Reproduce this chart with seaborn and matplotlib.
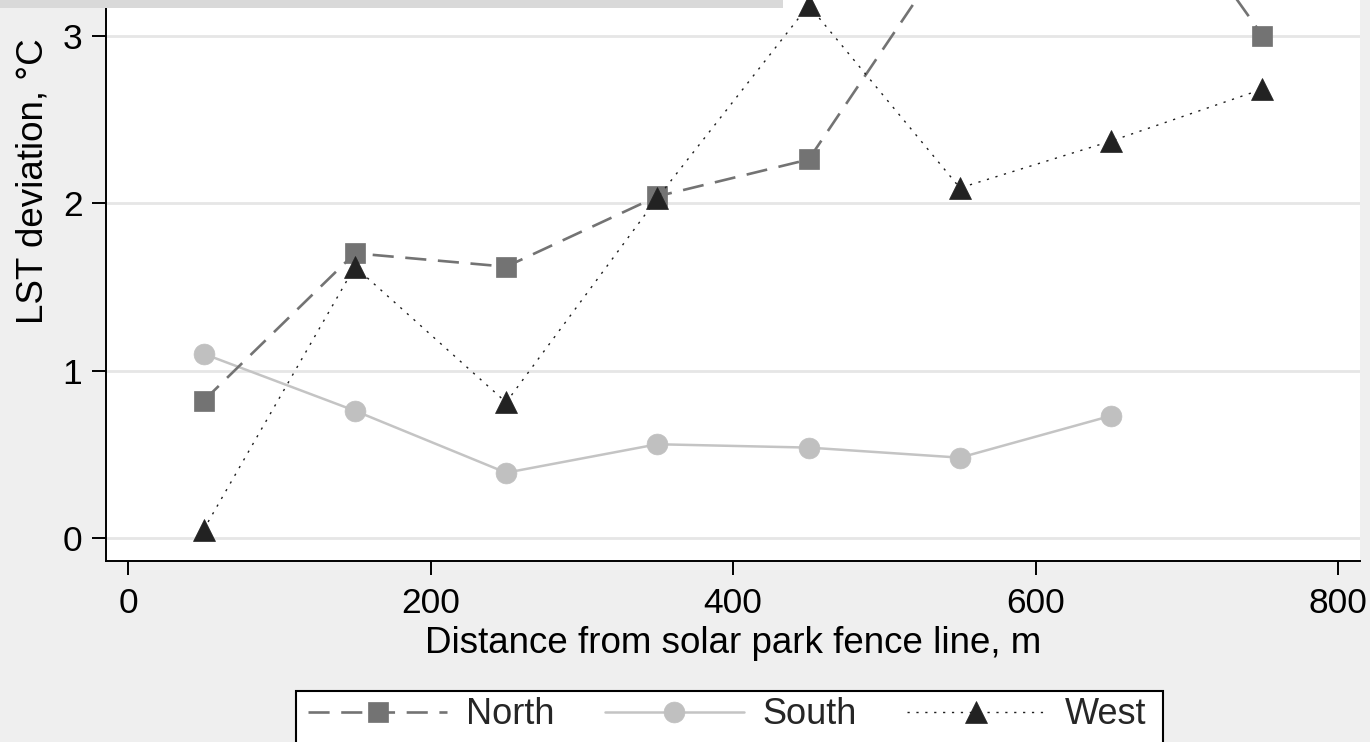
import matplotlib
matplotlib.use("Agg")
import matplotlib.pyplot as plt
from matplotlib.patches import Rectangle
import seaborn as sns

# LST deviation by distance from the fence line
distance = [50, 150, 250, 350, 450, 550, 650, 750]
north = [0.82, 1.70, 1.62, 2.04, 2.26, 3.60, 4.27, 3.00]
south_distance = [50, 150, 250, 350, 450, 550, 650]
south = [1.10, 0.76, 0.39, 0.56, 0.54, 0.48, 0.73]
west = [0.05, 1.62, 0.81, 2.03, 3.18, 2.09, 2.37, 2.68]
x_ticks = [0, 200, 400, 600, 800]
y_ticks = [0, 1, 2, 3]

sns.set_theme(style="white")
plt.rcParams["font.family"] = ["Liberation Sans", "DejaVu Sans"]

W, H = 1370, 742
fig = plt.figure(figsize=(W / 100, H / 100), dpi=100, facecolor="#efefef")

# plot region in pixels (top runs past the picture edge)
left, right, bottom, top = 106, 1360, 561, -199
ax = fig.add_axes([left / W, 1 - bottom / H, (right - left) / W, (bottom - top) / H])
ax.set_facecolor("white")

sns.lineplot(x=south_distance, y=south, ax=ax, color="#c4c4c4", lw=1.8,
             marker="o", markersize=15, mec="#c0c0c0", mfc="#c0c0c0", mew=0.5,
             label="South")
sns.lineplot(x=distance, y=north, ax=ax, color="#737373", lw=1.9,
             linestyle=(0, (8, 4.4)), dash_capstyle="butt",
             marker="s", markersize=14, mec="#737373", mfc="#737373", mew=0.5,
             label="North")
sns.lineplot(x=distance, y=west, ax=ax, color="#1e1e1e", lw=1.0,
             linestyle=(0, (1.6, 4.8)),
             marker="^", markersize=16, mec="#222222", mfc="#222222", mew=0.5,
             label="West")

ax.set_xlim(-14.55, 814.5)
ax.set_ylim(-0.137, 4.40)
ax.set_xticks(x_ticks)
ax.set_yticks(y_ticks)
ax.set_xticklabels([str(v) for v in x_ticks])
ax.set_yticklabels([str(v) for v in y_ticks])

ax.yaxis.grid(True, color="#e6e6e6", lw=2)
ax.xaxis.grid(False)
ax.set_axisbelow(True)

for side in ["top", "right"]:
    ax.spines[side].set_visible(False)
for side in ["left", "bottom"]:
    ax.spines[side].set_color("black")
    ax.spines[side].set_linewidth(1.4)

ax.tick_params(axis="both", which="major", bottom=True, left=True, direction="out",
               length=10, width=1.4, color="black", labelsize=25.5, labelcolor="black")
ax.tick_params(axis="x", pad=9)
ax.tick_params(axis="y", pad=7)

ax.set_xlabel("Distance from solar park fence line, m", fontsize=26.5, color="black")
ax.set_ylabel("LST deviation, °C", fontsize=26.5, color="black")
ax.xaxis.set_label_coords(0.5, -0.085)
ax.yaxis.set_label_coords(-0.044, 0.5)

# legend: North, South, West in one row, box cut by the bottom edge
handles, labels = ax.get_legend_handles_labels()
ax.get_legend().remove()
order = [labels.index(n) for n in ["North", "South", "West"]]
handles = [handles[i] for i in order]
labels = [labels[i] for i in order]

fig.patches.append(Rectangle((296 / W, -0.05), (1163 - 296) / W, (742 - 691) / H + 0.05,
                             transform=fig.transFigure, facecolor="white",
                             edgecolor="black", lw=1.5, zorder=1))
fig.legend(handles, labels, loc="center left", bbox_to_anchor=(308 / W, 1 - 715 / H),
           ncol=3, frameon=False, fontsize=26, handlelength=3.85, handletextpad=0.52,
           columnspacing=1.39, borderpad=0, borderaxespad=0)

# grey strip along the top edge
fig.patches.append(Rectangle((0, 1 - 8 / H), 783 / W, 8 / H, transform=fig.transFigure,
                             facecolor="#d9d9d9", edgecolor="none", zorder=10))

fig.savefig("out.png", dpi=100, facecolor=fig.get_facecolor())
